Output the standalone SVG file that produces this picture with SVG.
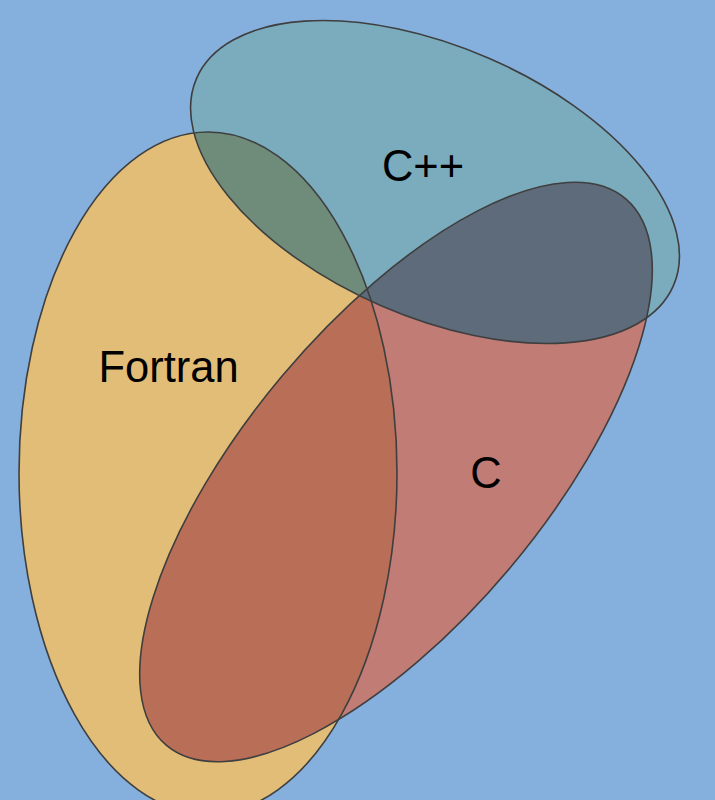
<svg xmlns="http://www.w3.org/2000/svg" width="715" height="800" viewBox="0 0 715 800">
<style>
.outline{fill:none;stroke:#3f3f3f;stroke-width:1.6}
.label{font-family:"Liberation Sans",Arial,sans-serif;font-size:43.5px;fill:#000;text-anchor:middle}
</style>
<defs>
<clipPath id="clipCpp"><ellipse cx="435" cy="182" rx="260" ry="135" transform="rotate(23.5 435 182)"/></clipPath>
<clipPath id="clipC"><ellipse cx="396" cy="472" rx="357" ry="149" transform="rotate(-50 396 472)"/></clipPath>
</defs>
<rect x="0" y="0" width="715" height="800" fill="#85b0de"/>
<g id="fortran">
<ellipse cx="208" cy="473" rx="189" ry="341" fill="#e2bd77"/>
</g>
<g id="cpp">
<ellipse cx="435" cy="182" rx="260" ry="135" transform="rotate(23.5 435 182)" fill="#7aacbe"/>
</g>
<g id="c">
<ellipse cx="396" cy="472" rx="357" ry="149" transform="rotate(-50 396 472)" fill="#c07c75"/>
</g>
<g id="overlaps">
<g clip-path="url(#clipCpp)"><ellipse cx="208" cy="473" rx="189" ry="341" fill="#6f8c7b"/></g>
<g clip-path="url(#clipC)"><ellipse cx="208" cy="473" rx="189" ry="341" fill="#b96e57"/></g>
<g clip-path="url(#clipCpp)"><ellipse cx="396" cy="472" rx="357" ry="149" transform="rotate(-50 396 472)" fill="#5e6b7b"/></g>
</g>
<g id="outlines">
<ellipse class="outline" cx="208" cy="473" rx="189" ry="341"/>
<ellipse class="outline" cx="435" cy="182" rx="260" ry="135" transform="rotate(23.5 435 182)"/>
<ellipse class="outline" cx="396" cy="472" rx="357" ry="149" transform="rotate(-50 396 472)"/>
</g>
<g id="connectors"/>
<g id="labels">
<text class="label" x="168.5" y="382">Fortran</text>
<text class="label" x="423" y="181">C++</text>
<text class="label" x="486" y="488">C</text>
</g>
</svg>
